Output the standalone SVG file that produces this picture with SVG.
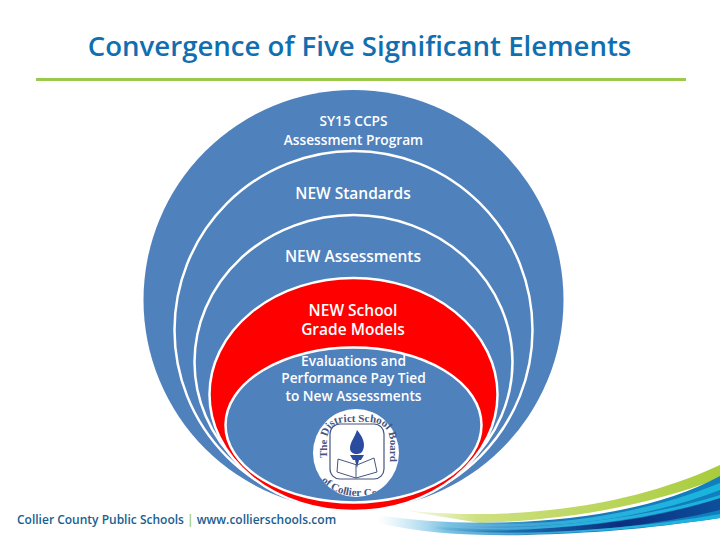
<svg xmlns="http://www.w3.org/2000/svg" width="720" height="540" viewBox="0 0 720 540">
<style>
.b{fill:#4f81bd}
.w{stroke:#fff;stroke-width:2.5}
.t{font-family:"Open Sans","Noto Sans",sans-serif;font-weight:600;fill:#fff;text-anchor:middle;font-size:13.7px}
.l{font-size:15.5px}
.s{font-family:"Liberation Serif",serif;font-weight:700;fill:#47557f;font-size:11px}
.k{fill:none;stroke:#47557f;stroke-width:1}
</style>
<defs>
<linearGradient id="g1" x1="0" x2="1" y1="0" y2="0"><stop offset="0" stop-color="#d5e48f" stop-opacity="0"/><stop offset=".25" stop-color="#cfe080"/><stop offset="1" stop-color="#a8cc3c"/></linearGradient>
<linearGradient id="g2" x1="0" x2="1" y1="0" y2="0"><stop offset="0" stop-color="#a5d8ee" stop-opacity="0"/><stop offset=".2" stop-color="#7cc3e3"/><stop offset=".5" stop-color="#1a78b8"/><stop offset="1" stop-color="#0f7fc0"/></linearGradient>
<linearGradient id="g3" x1="0" x2="1" y1="0" y2="0"><stop offset="0" stop-color="#1f6fb0" stop-opacity="0"/><stop offset=".3" stop-color="#1b6cb0"/><stop offset=".65" stop-color="#0b2f7e"/><stop offset="1" stop-color="#0d4f9c"/></linearGradient>
<linearGradient id="g4" x1="0" x2="1" y1="0" y2="0"><stop offset="0" stop-color="#7fd0ee" stop-opacity="0"/><stop offset=".5" stop-color="#2cb0dd"/><stop offset="1" stop-color="#18b4dc"/></linearGradient>
<path id="arc" d="M327 458V442Q327 422 348 422H367Q390 422 390 442V470"/>
<path id="arcb" d="M321 481Q334 495 355 496H385"/>
<clipPath id="lc"><ellipse cx="356" cy="453" rx="43" ry="44"/></clipPath>
</defs>
<rect width="720" height="540" fill="#fff"/>
<text x="359.500" y="56" font-family="'Open Sans','Noto Sans',sans-serif" font-weight="600" font-size="27.600" fill="#0f6fb0" text-anchor="middle">Convergence of Five Significant Elements</text>
<rect x="36" y="78" width="650" height="3" fill="#9bc94b"/>
<g id="swoosh">
<path d="M395 509C480 520 610 516 720 465V478C650 505 570 520 480 523Z" fill="url(#g1)"/>
<path d="M378 515C470 530 630 526 720 476V518C640 530 590 533 527 535C470 536 420 533 378 523Z" fill="url(#g2)"/>
<path d="M430 526C520 534 630 528 720 498V510C630 532 520 537 435 529Z" fill="url(#g3)"/>
<path d="M440 522C540 530 640 516 720 483V490C640 521 540 532 445 524Z" fill="url(#g4)"/>
<path d="M430 527C530 532 640 520 720 495V498C640 523 530 535 435 529Z" fill="url(#g4)"/>
<path d="M450 532C540 536 640 528 720 514V518C640 530 540 537 455 534Z" fill="url(#g4)"/>
</g>
<g id="node-1"><circle class="b" cx="353.500" cy="300" r="210"/><text class="t" x="353.500" y="126">SY15 CCPS</text><text class="t" x="353.500" y="145">Assessment Program</text></g>
<g id="node-2"><circle class="b w" cx="353.500" cy="330" r="179"/><text class="t l" x="353" y="199">NEW Standards</text></g>
<g id="node-3"><ellipse class="b w" cx="353.500" cy="362" rx="159" ry="147"/><text class="t l" x="353" y="262">NEW Assessments</text></g>
<g id="node-4"><ellipse fill="#f00" class="w" cx="353.500" cy="394.500" rx="144" ry="116.500"/><text class="t l" x="353" y="316">NEW School</text><text class="t l" x="353" y="335">Grade Models</text></g>
<g id="node-5"><ellipse class="b w" cx="353.500" cy="425" rx="128" ry="77.500"/><text class="t" x="353.500" y="366">Evaluations and</text><text class="t" x="353.500" y="383">Performance Pay Tied</text><text class="t" x="353.500" y="401">to New Assessments</text></g>
<g id="logo">
<ellipse cx="356" cy="453" rx="43" ry="44" fill="#fff"/>
<rect x="330" y="424" width="54" height="55" rx="10" fill="#fff" stroke="#47557f" stroke-width="1.200"/>
<path d="M357 430c5 6 9 13 6 20-1 3-4 4-6 4-4 0-7-2-7-6 0-6 5-11 7-18z" fill="#2a4ba0"/>
<path d="M350 455h14l-3 5h-2l-2 8-2-8h-2z" fill="#2a4ba0"/>
<path class="k" d="M338 459l-1 13 19 6 21-6-3-14-17 7z"/>
<path class="k" d="M356 465v13"/>
<text class="s"><textPath href="#arc">The District School Board</textPath></text>
<g clip-path="url(#lc)"><text class="s"><textPath href="#arcb">of Collier Cou</textPath></text></g>
</g>
<text x="17" y="524" font-family="'Open Sans','Noto Sans',sans-serif" font-weight="600" font-size="12" fill="#17608f">Collier County Public Schools <tspan fill="#9bc94b">|</tspan> www.collierschools.com</text>
</svg>
